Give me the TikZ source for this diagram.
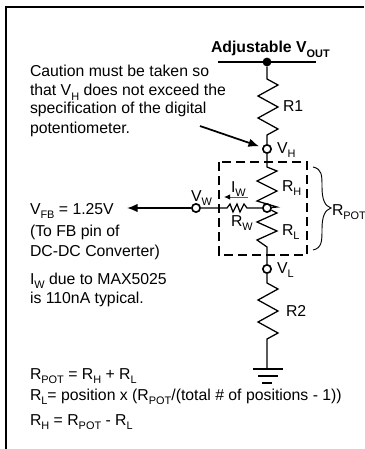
\documentclass[tikz,border=0pt]{standalone}
\usepackage{fontspec}
\setmainfont{Liberation Sans}
\usetikzlibrary{arrows.meta}
\newcommand{\sbs}[1]{\raisebox{-0.55ex}{\fontsize{8.2}{9}\selectfont #1}}
\tikzset{
  wire/.style={line width=0.95pt, line join=miter},
  term/.style={circle, draw, fill=white, line width=1.25pt, minimum size=6.2pt, inner sep=0pt},
  dotj/.style={circle, fill=black, minimum size=6.6pt, inner sep=0pt},
  txt/.style={anchor=base west, inner sep=0pt, outer sep=0pt, font=\fontsize{11.85}{13}\selectfont},
  bigarrow/.style={-{Latex[length=8pt,width=6.5pt]}, line width=1.3pt},
}
\begin{document}
\begin{tikzpicture}[x=0.75pt, y=-0.75pt]
\useasboundingbox (0,0) rectangle (364,449);

% frame
\draw [line width=1.3pt] (6,449) -- (6,7) -- (364,7);

% supply rail
\coordinate (railL) at (218,62);
\coordinate (railR) at (316,62);
\node [dotj] (out) at (267,62) {};
\draw [line width=1.2pt] (railL) -- (railR);

\node [term] (VH) at (267,149) {};
\node [term] (VL) at (267,269) {};
\node [term] (wip) at (267,208) {};
\node [term] (VW) at (196,208) {};
\coordinate (fb) at (127,208);
\coordinate (gnd) at (267,369);

% R1
\draw [wire] (out) -- ++(0,17) -- ++(11,6) -- ++(-20,11) -- ++(20,11) -- ++(-20,11) -- ++(20,11) -- ++(-11,6) -- (VH);
% RH
\draw [wire] (VH) -- ++(0,18) -- ++(10,4) -- ++(-20,10) -- ++(20,10) -- ++(-20,10) -- ++(20,6) -- (wip);
% RL
\draw [wire] (wip) -- ++(10,5) -- ++(-20,9) -- ++(20,9) -- ++(-20,9) -- ++(10,7) -- (VL);
% R2
\draw [wire] (VL) -- ++(0,14) -- ++(11,6) -- ++(-20,11) -- ++(20,11) -- ++(-20,11) -- ++(20,11) -- ++(-11,6) -- (gnd);
% RW
\draw [wire] (VW) -- ++(31,0) -- ++(3,-4) -- ++(3,8) -- ++(4,-8) -- ++(3,8) -- ++(4,-8) -- ++(3,4) -- (wip);
\draw [bigarrow] (VW) -- (fb);

% IW arrow
\coordinate (iwA) at (248,197);
\coordinate (iwB) at (224,197);
\draw [line width=0.7pt, gray!70!black, -{Latex[length=4.5pt,width=4pt,black]}] (iwA) -- (iwB);

% ground
\draw [line width=0.8pt] (253,369) -- (283,369);
\draw [line width=0.8pt] (258,376) -- (278,376);
\draw [line width=0.8pt] (262,383) -- (272,383);

% pot box
\draw [dashed, line width=1.35pt, dash pattern=on 7pt off 3.5pt] (219,162) rectangle (307,255);

% brace
\coordinate (brT) at (313,167);
\coordinate (brB) at (313,250);
\coordinate (brM) at (331,208);
\draw [line width=0.7pt] (brT) .. controls (322,169) and (322,175) .. (322,187) .. controls (322,200) and (325,206) .. (brM) .. controls (325,210) and (322,216) .. (322,229) .. controls (322,241) and (322,248) .. (brB);

% caution arrow
\coordinate (cau) at (200,126);
\draw [bigarrow, shorten >=2.5pt] (cau) -- (VH);

% labels
\node [txt, font=\fontsize{11.85}{13}\selectfont\bfseries] (adj) at (211,53) {Adjustable V\sbs{OUT}};
\node [txt] (c1) at (30,77) {Caution must be taken so};
\node [txt] (c2) at (30,96) {that V\sbs{H} does not exceed the};
\node [txt] (c3) at (30,114) {specification of the digital};
\node [txt] (c4) at (30,133) {potentiometer.};

\node [txt] (lR1) at (283,112) {R1};
\node [txt] (lR2) at (286,316) {R2};
\node [txt] (lVH) at (277,153) {V\sbs{H}};
\node [txt] (lVL) at (277,273) {V\sbs{L}};
\node [txt] (lVW) at (191,201) {V\sbs{W}};
\node [txt] (lIW) at (231,192) {I\sbs{W}};
\node [txt] (lRW) at (231,226) {R\sbs{W}};
\node [txt] (lRH) at (282,191) {R\sbs{H}};
\node [txt] (lRL) at (282,235) {R\sbs{L}};
\node [txt] (lRP) at (332,215) {R\sbs{POT}};

\node [txt] (f1) at (30,214) {V\sbs{FB} = 1.25V};
\node [txt] (f2) at (30,236) {(To FB pin of};
\node [txt] (f3) at (30,256) {DC-DC Converter)};
\node [txt] (i1) at (30,284) {I\sbs{W} due to MAX5025};
\node [txt] (i2) at (30,303) {is 110nA typical.};

\node [txt] (e1) at (30,379) {R\sbs{POT} = R\sbs{H} + R\sbs{L}};
\node [txt] (e2) at (30,400) {R\sbs{L}= position x (R\sbs{POT}/(total \# of positions - 1))};
\node [txt] (e3) at (30,425) {R\sbs{H} = R\sbs{POT} - R\sbs{L}};

\end{tikzpicture}
\end{document}
